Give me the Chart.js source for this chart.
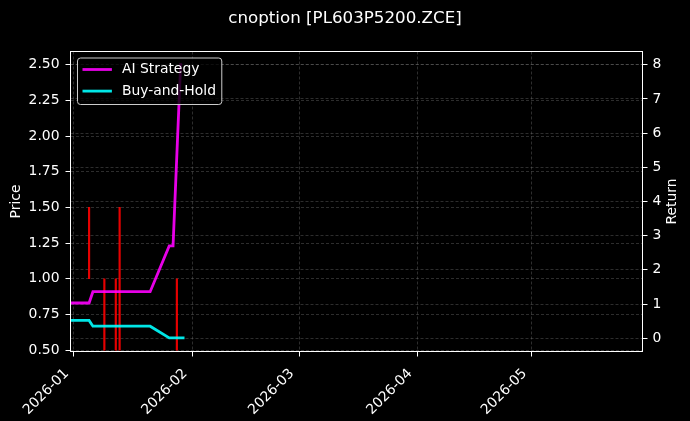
<!DOCTYPE html>
<html>
<head>
<meta charset="utf-8">
<script src="https://cdn.jsdelivr.net/npm/chart.js@4.4.1/dist/chart.umd.min.js"></script>
<style>
  html, body { margin: 0; padding: 0; background: #000; }
  canvas { display: block; }
</style>
</head>
<body>
<canvas id="chart" width="690" height="421"></canvas>
<script>
const chartTitle = 'cnoption [PL603P5200.ZCE]';

// strategy curves (right axis, Return)
const aiDates = ['2025-12-31', '2026-01-05', '2026-01-06', '2026-01-21', '2026-01-26', '2026-01-27', '2026-01-29'];
const aiReturn = [1.03, 1.03, 1.36, 1.36, 2.70, 2.70, 8.05];
const bhDates = ['2025-12-31', '2026-01-05', '2026-01-06', '2026-01-21', '2026-01-26', '2026-01-30'];
const bhReturn = [0.52, 0.52, 0.35, 0.35, 0.01, 0.01];

// price bars (left axis, Price)
const barDates = ['2026-01-05', '2026-01-09', '2026-01-12', '2026-01-13', '2026-01-28'];
const barLow = [1.0, 0.5, 0.5, 0.5, 0.5];
const barHigh = [1.5, 1.0, 1.0, 1.5, 1.0];

const monthTicks = ['2026-01', '2026-02', '2026-03', '2026-04', '2026-05'];
const priceTicks = [0.50, 0.75, 1.00, 1.25, 1.50, 1.75, 2.00, 2.25, 2.50];
const returnTicks = [0, 1, 2, 3, 4, 5, 6, 7, 8];

function dayOf(s) {
    const p = s.split('-').map(Number);
    return (Date.UTC(p[0], p[1] - 1, p[2] || 1) - Date.UTC(2026, 0, 1)) / 86400000;
}

Chart.defaults.font.family = "'DejaVu Sans', sans-serif";
Chart.defaults.font.size = 13.9;
Chart.defaults.color = '#ffffff';

function gridOpts() {
    return {
        color: 'rgba(128,128,128,0.5)',
        lineWidth: 0.7,
        tickColor: '#ffffff',
        tickLength: 5,
        tickWidth: 1,
        tickBorderDash: []
    };
}

const decor = {
    id: 'decor',
    afterDraw(chart) {
        const ctx = chart.ctx;
        const a = chart.chartArea;
        ctx.save();
        // frame
        ctx.strokeStyle = '#ffffff';
        ctx.lineWidth = 1;
        ctx.setLineDash([]);
        ctx.strokeRect(a.left, a.top, a.right - a.left, a.bottom - a.top);

        // right axis label, reads bottom to top
        ctx.fillStyle = '#ffffff';
        ctx.font = "13.9px 'DejaVu Sans'";
        ctx.save();
        ctx.translate(chart.width - 17.5, (a.top + a.bottom) / 2);
        ctx.rotate(-Math.PI / 2);
        ctx.textAlign = 'center';
        ctx.textBaseline = 'middle';
        ctx.fillText('Return', 0, 0);
        ctx.restore();

        // legend box, upper left
        const items = chart.data.datasets.filter(d => d.type === 'line');
        const w = Math.max(...items.map(d => ctx.measureText(d.label).width));
        const x0 = a.left + 7, y0 = a.top + 6.5;
        const boxW = 44.5 + w + 5.7, boxH = 46.5;
        ctx.beginPath();
        ctx.roundRect(x0, y0, boxW, boxH, 3);
        ctx.fillStyle = 'rgba(0,0,0,0.8)';
        ctx.fill();
        ctx.strokeStyle = 'rgba(204,204,204,1)';
        ctx.stroke();
        items.forEach((d, i) => {
            const y = y0 + 11.5 + i * 21.6;
            ctx.beginPath();
            ctx.moveTo(x0 + 5, y);
            ctx.lineTo(x0 + 34.4, y);
            ctx.strokeStyle = d.borderColor;
            ctx.lineWidth = 2.8;
            ctx.stroke();
            ctx.fillStyle = '#ffffff';
            ctx.textAlign = 'left';
            ctx.textBaseline = 'middle';
            ctx.fillText(d.label, x0 + 44.4, y);
        });
        ctx.restore();
    }
};

const ctx = document.getElementById('chart').getContext('2d');
const chart = new Chart(ctx, {
    type: 'line',
    data: {
        datasets: [{
            type: 'line',
            label: 'AI Strategy',
            data: aiDates.map((d, i) => ({ x: dayOf(d), y: aiReturn[i] })),
            yAxisID: 'y1',
            borderColor: 'rgba(255,0,255,0.9)',
            borderWidth: 2.8,
            pointRadius: 0,
            tension: 0,
            order: 0
        }, {
            type: 'line',
            label: 'Buy-and-Hold',
            data: bhDates.map((d, i) => ({ x: dayOf(d), y: bhReturn[i] })),
            yAxisID: 'y1',
            borderColor: 'rgba(0,255,255,0.9)',
            borderWidth: 2.8,
            pointRadius: 0,
            tension: 0,
            order: 1
        }, {
            type: 'bar',
            label: 'Price',
            data: barDates.map((d, i) => ({ x: dayOf(d), y: [barLow[i], barHigh[i]] })),
            yAxisID: 'y',
            backgroundColor: 'rgba(255,0,0,0.9)',
            borderWidth: 0,
            barThickness: 1.5,
            grouped: false,
            order: 2
        }]
    },
    options: {
        responsive: false,
        animation: false,
        devicePixelRatio: 1,
        layout: { padding: 0 },
        plugins: {
            legend: { display: false },
            tooltip: { enabled: false },
            title: {
                display: true,
                text: chartTitle,
                color: '#ffffff',
                font: { size: 16.7, weight: 'normal' },
                padding: { top: 9, bottom: 22.46 }
            }
        },
        scales: {
            x: {
                type: 'linear',
                min: -0.87,
                max: 149.0,
                offset: false,
                grid: Object.assign(gridOpts(), { offset: false }),
                border: { display: false, dash: [3, 2] },
                afterBuildTicks: s => { s.ticks = monthTicks.map(m => ({ value: dayOf(m) })); },
                afterFit: s => { s.height = 69.5; },
                ticks: {
                    autoSkip: false,
                    minRotation: 45,
                    maxRotation: 45,
                    padding: 9,
                    labelOffset: -7,
                    callback: v => monthTicks.find(m => dayOf(m) === v) || ''
                }
            },
            y: {
                position: 'left',
                min: 0.49,
                max: 2.593,
                grid: gridOpts(),
                border: { display: false, dash: [3, 2] },
                afterBuildTicks: s => { s.ticks = priceTicks.map(v => ({ value: v })); },
                afterFit: s => { s.width = 70.5; },
                ticks: { padding: 6, callback: v => v.toFixed(2) },
                title: { display: true, text: 'Price', padding: { top: 8.5, bottom: 0 } }
            },
            y1: {
                position: 'right',
                min: -0.39,
                max: 8.39,
                grid: gridOpts(),
                border: { display: false, dash: [3, 2] },
                afterBuildTicks: s => { s.ticks = returnTicks.map(v => ({ value: v })); },
                afterFit: s => { s.width = 47.5; },
                ticks: { padding: 5, callback: v => String(v) }
            }
        }
    },
    plugins: [decor]
});
</script>
</body>
</html>
